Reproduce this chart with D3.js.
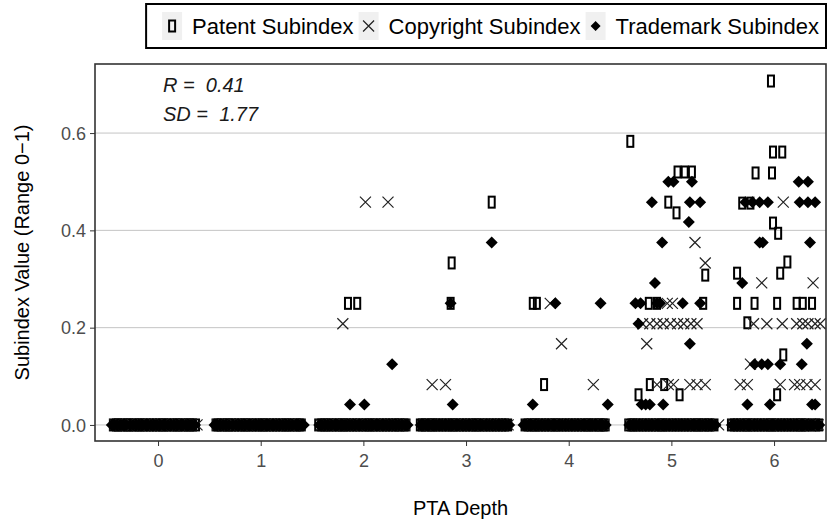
<!DOCTYPE html>
<meta charset="utf-8">
<style>
body{margin:0;background:#fff;}
svg text{font-family:"Liberation Sans",Arial,sans-serif;}
.grid line{stroke:#c4c4c4;stroke-width:1;}
.axis text{fill:#4d4d4d;font-size:18px;}
.axis line{stroke:#333;}
.axis path{display:none;}
.patent{fill:none;stroke:#000;stroke-width:2px;}
.copyright{fill:none;stroke:#222;stroke-width:1.2px;}
.trademark{fill:#000;}
</style>
<body>
<script src="https://d3js.org/d3.v7.min.js"></script>
<script>
// category ticks + y ticks
var depths = [0,1,2,3,4,5,6];
var yTicks = [0,0.2,0.4,0.6];
var seriesNames = ["Patent Subindex","Copyright Subindex","Trademark Subindex"];

// non-zero points, [jittered depth, value]
var patentPoints = [[1.85,0.25],[1.94,0.25],[2.86,0.333],[2.85,0.25],[3.25,0.458],
  [3.65,0.25],[3.69,0.25],[3.76,0.083],
  [4.60,0.583],[5.06,0.52],[5.13,0.52],[5.20,0.52],[4.97,0.458],[5.05,0.436],
  [5.33,0.308],[5.31,0.25],[4.78,0.25],[4.86,0.25],[4.79,0.083],[4.93,0.083],
  [4.68,0.062],[5.08,0.062],
  [5.97,0.707],[5.99,0.561],[6.08,0.561],[5.82,0.518],[5.98,0.518],[5.69,0.456],
  [5.77,0.456],[5.99,0.415],[6.04,0.394],[6.13,0.335],[6.06,0.312],[5.64,0.312],
  [5.64,0.25],[5.81,0.25],[6.03,0.25],[6.22,0.25],[6.28,0.25],[6.37,0.25],
  [5.74,0.21],[6.09,0.144],[6.03,0.062]];
var copyrightPoints = [[1.80,0.208],[2.02,0.458],[2.24,0.458],[2.67,0.083],[2.80,0.083],
  [3.82,0.25],[3.93,0.167],[4.24,0.083],
  [5.23,0.375],[5.33,0.333],[4.96,0.25],[5.01,0.25],
  [4.72,0.208],[4.79,0.208],[4.86,0.208],[4.92,0.208],[4.99,0.208],[5.06,0.208],
  [5.12,0.208],[5.19,0.208],[5.25,0.208],[4.76,0.167],
  [4.86,0.083],[4.97,0.083],[5.02,0.083],[5.18,0.083],[5.25,0.083],[5.33,0.083],
  [5.88,0.292],[6.38,0.292],[6.09,0.458],
  [5.80,0.208],[5.93,0.208],[6.08,0.208],[6.22,0.208],[6.28,0.208],[6.33,0.208],
  [6.40,0.208],[6.45,0.208],[5.77,0.125],
  [5.67,0.083],[5.74,0.083],[6.06,0.083],[6.20,0.083],[6.25,0.083],[6.32,0.083],[6.40,0.083]];
var trademarkPoints = [[1.87,0.042],[2.01,0.042],[2.28,0.125],
  [2.87,0.042],[2.85,0.25],[3.25,0.375],
  [3.65,0.042],[3.87,0.25],[4.31,0.25],[4.38,0.042],
  [4.81,0.458],[5.18,0.458],[5.28,0.458],[4.97,0.5],[5.02,0.5],[5.20,0.5],
  [5.17,0.417],[4.91,0.375],[4.84,0.292],
  [4.65,0.25],[4.70,0.25],[4.86,0.25],[4.89,0.25],[5.11,0.25],[5.28,0.25],
  [4.68,0.208],[5.18,0.167],
  [4.71,0.042],[4.75,0.042],[4.79,0.042],[4.92,0.042],
  [6.24,0.5],[6.33,0.5],
  [5.72,0.458],[5.79,0.458],[5.86,0.458],[5.94,0.458],[6.25,0.458],[6.33,0.458],[6.40,0.458],
  [5.86,0.375],[5.89,0.375],[6.35,0.375],[5.69,0.292],[6.32,0.167],
  [5.81,0.125],[5.88,0.125],[5.94,0.125],[6.06,0.125],[6.27,0.125],
  [5.74,0.042],[5.96,0.042],[6.37,0.042],[6.40,0.042]];

// x positions of the zero values (dense band)
var patentZero = [-0.44,-0.39,-0.33,-0.28,-0.22,-0.17,-0.11,-0.05,0.01,0.06,0.12,0.18,0.23,0.29,0.34,
  0.56,0.61,0.67,0.72,0.78,0.84,0.89,0.95,1.01,1.06,1.12,1.18,1.24,1.29,1.35,1.40,
  1.56,1.62,1.67,1.73,1.79,1.84,1.90,1.96,2.02,2.07,2.13,2.19,2.25,2.31,2.36,2.42,
  2.57,2.63,2.68,2.74,2.80,2.86,2.91,2.97,3.03,3.09,3.14,3.20,3.26,3.32,3.38,
  3.57,3.63,3.68,3.74,3.80,3.86,3.91,3.97,4.03,4.09,4.15,4.20,4.26,4.31,4.36,
  4.58,4.63,4.69,4.75,4.81,4.87,4.92,4.98,5.04,5.10,5.16,5.22,5.27,5.33,5.38,
  5.58,5.64,5.70,5.75,5.81,5.87,5.93,5.98,6.04,6.10,6.16,6.22,6.27,6.33,6.41,
  -0.41,-0.36,-0.30,-0.25,-0.19,-0.14,-0.08,-0.02,0.04,0.09,0.15,0.20,0.26,0.31,0.37,
  0.58,0.64,0.69,0.75,0.81,0.86,0.92,0.98,1.03,1.09,1.15,1.21,1.26,1.32,1.38,
  1.59,1.64,1.70,1.76,1.81,1.87,1.93,1.99,2.05,2.10,2.16,2.22,2.28,2.34,2.40,
  2.55,2.60,2.66,2.71,2.77,2.83,2.88,2.94,3.00,3.06,3.11,3.17,3.23,3.29,3.35,3.41,
  3.60,3.66,3.71,3.77,3.83,3.88,3.94,4.00,4.06,4.12,4.18,4.23,4.29,4.34,
  4.61,4.66,4.72,4.78,4.84,4.90,4.95,5.01,5.07,5.13,5.19,5.25,5.30,5.36,5.42,
  5.61,5.67,5.73,5.78,5.84,5.90,5.96,6.01,6.07,6.13,6.19,6.25,6.30,6.37,6.44];
var copyrightZero = [-0.42,-0.36,-0.30,-0.25,-0.19,-0.13,-0.08,-0.02,0.04,0.09,0.15,0.21,0.26,0.32,0.38,
  0.58,0.64,0.70,0.75,0.81,0.87,0.92,0.98,1.04,1.09,1.15,1.21,1.27,1.33,1.38,
  1.59,1.65,1.71,1.76,1.82,1.88,1.94,1.99,2.05,2.11,2.16,2.22,2.28,2.34,2.40,
  2.60,2.65,2.71,2.77,2.83,2.89,2.94,3.00,3.06,3.12,3.17,3.23,3.29,3.35,3.41,
  3.60,3.65,3.71,3.77,3.83,3.88,3.94,4.00,4.06,4.12,4.17,4.23,4.29,4.34,
  4.60,4.66,4.72,4.78,4.84,4.89,4.95,5.01,5.07,5.13,5.19,5.24,5.30,5.36,5.46,
  5.61,5.67,5.73,5.78,5.84,5.90,5.96,6.01,6.07,6.13,6.19,6.25,6.30,6.36,6.43];
var trademarkZero = [-0.45,-0.40,-0.34,-0.27,-0.21,-0.15,-0.10,-0.04,0.02,0.07,0.13,0.19,0.24,0.30,0.36,
  0.55,0.60,0.66,0.73,0.79,0.85,0.90,0.96,1.02,1.08,1.13,1.19,1.25,1.31,1.37,1.42,
  1.57,1.63,1.69,1.75,1.80,1.86,1.92,1.97,2.03,2.09,2.15,2.20,2.26,2.32,2.38,2.43,
  2.58,2.64,2.70,2.76,2.81,2.87,2.93,2.99,3.04,3.10,3.16,3.22,3.28,3.33,3.39,
  3.58,3.64,3.70,3.76,3.81,3.87,3.93,3.99,4.04,4.10,4.16,4.22,4.27,4.33,
  4.59,4.65,4.71,4.76,4.82,4.88,4.94,4.99,5.05,5.11,5.17,5.23,5.28,5.34,5.40,
  5.59,5.65,5.71,5.77,5.83,5.88,5.94,6.00,6.06,6.11,6.17,6.23,6.29,6.35,6.42,
  -0.43,-0.37,-0.31,-0.24,-0.18,-0.12,-0.07,-0.01,0.05,0.10,0.16,0.22,0.27,0.33,
  0.57,0.63,0.69,0.76,0.82,0.88,0.93,0.99,1.05,1.11,1.16,1.22,1.28,1.34,1.40,
  1.60,1.66,1.72,1.78,1.83,1.89,1.95,2.00,2.06,2.12,2.18,2.23,2.29,2.35,2.41,
  2.56,2.61,2.67,2.73,2.79,2.84,2.90,2.96,3.02,3.07,3.13,3.19,3.25,3.31,3.36,3.42,
  3.56,3.61,3.67,3.73,3.79,3.84,3.90,3.96,4.02,4.07,4.13,4.19,4.25,4.30,4.36,
  4.62,4.68,4.74,4.79,4.85,4.91,4.97,5.02,5.08,5.14,5.20,5.26,5.31,5.37,5.43,
  5.62,5.68,5.74,5.80,5.86,5.91,5.97,6.03,6.09,6.14,6.20,6.26,6.32,6.38,6.44];

var statLines = ["R =  0.41","SD =  1.77"];

var W = 829, H = 522;
var panel = {left:95, right:826, top:64, bottom:441};

var svg = d3.select("body").append("svg").attr("width",W).attr("height",H);

var x = d3.scaleLinear().domain([-0.614,6.506]).range([panel.left,panel.right]);
var y = d3.scaleLinear().domain([-0.033,0.742]).range([panel.bottom,panel.top]);

// grid
svg.append("g").attr("class","grid").selectAll("line").data(yTicks).enter()
  .append("line")
  .attr("x1",panel.left).attr("x2",panel.right)
  .attr("y1",function(d){return y(d);}).attr("y2",function(d){return y(d);});

// axes
var yAxis = svg.append("g").attr("class","axis")
  .attr("transform","translate("+panel.left+",0)")
  .call(d3.axisLeft(y).tickValues(yTicks).tickFormat(d3.format(".1f")).tickSize(5).tickPadding(4));
yAxis.selectAll("text").attr("dy","0.35em");

svg.append("g").attr("class","axis")
  .attr("transform","translate(0,"+panel.bottom+")")
  .call(d3.axisBottom(x).tickValues(depths).tickFormat(d3.format("d")).tickSize(5).tickPadding(8));

// points
function diamondPath(r){ return "M0,"+(-r)+"L"+r+",0L0,"+r+"L"+(-r)+",0Z"; }
function crossPath(r){ return "M"+(-r)+","+(-r)+"L"+r+","+r+"M"+(-r)+","+r+"L"+r+","+(-r); }

function drawPatent(g, pts){
  g.selectAll("rect").data(pts).enter().append("rect").attr("class","patent")
    .attr("x",function(d){return x(d[0])-3;})
    .attr("y",function(d){return y(d[1])-5.5;})
    .attr("width",6).attr("height",11);
}
function drawCopyright(g, pts){
  g.selectAll("path").data(pts).enter().append("path").attr("class","copyright")
    .attr("d",crossPath(5.5))
    .attr("transform",function(d){return "translate("+x(d[0])+","+y(d[1])+")";});
}
function drawTrademark(g, pts){
  g.selectAll("path").data(pts).enter().append("path").attr("class","trademark")
    .attr("d",diamondPath(6))
    .attr("transform",function(d){return "translate("+x(d[0])+","+y(d[1])+")";});
}

var toZero = function(v){ return [v,0]; };
drawPatent(svg.append("g"), patentZero.map(toZero).concat(patentPoints));
drawCopyright(svg.append("g"), copyrightZero.map(toZero).concat(copyrightPoints));
drawTrademark(svg.append("g"), trademarkZero.map(toZero).concat(trademarkPoints));

// panel border
svg.append("rect")
  .attr("x",panel.left).attr("y",panel.top)
  .attr("width",panel.right-panel.left).attr("height",panel.bottom-panel.top)
  .attr("fill","none").attr("stroke","#333").attr("stroke-width",1.6);

// stats text
svg.append("g").selectAll("text").data(statLines).enter().append("text")
  .attr("x",163).attr("y",function(d,i){return 92+i*29;})
  .attr("font-size","20px").attr("font-style","italic").attr("fill","#1a1a1a")
  .style("white-space","pre").text(function(d){return d;});

// axis titles
svg.append("text").attr("x",(panel.left+panel.right)/2).attr("y",515)
  .attr("text-anchor","middle").attr("font-size","20px").text("PTA Depth");
svg.append("text").attr("transform","translate(29,"+((panel.top+panel.bottom)/2)+") rotate(-90)")
  .attr("text-anchor","middle").attr("font-size","20px").text("Subindex Value (Range 0\u22121)");

// legend
var leg = svg.append("g");
var legBox = leg.append("rect").attr("fill","#fff").attr("stroke","#000").attr("stroke-width",2);
var cx = 0;
seriesNames.forEach(function(name,i){
  var it = leg.append("g");
  it.append("rect").attr("x",cx).attr("y",-14).attr("width",20).attr("height",28).attr("fill","#f0f0f0");
  var k = it.append("g").attr("transform","translate("+(cx+10)+",0)");
  if(i==0) k.append("rect").attr("class","patent").attr("x",-3).attr("y",-5.5).attr("width",6).attr("height",11);
  if(i==1) k.append("path").attr("class","copyright").attr("d",crossPath(5.5));
  if(i==2) k.append("path").attr("class","trademark").attr("d",diamondPath(5));
  var t = it.append("text").attr("x",cx+30).attr("y",8).attr("font-size","22px").text(name);
  cx += 30 + t.node().getComputedTextLength() + 5;
});
var legW = cx + 18;
legBox.attr("x",-16).attr("y",-22).attr("width",legW).attr("height",44);
leg.attr("transform","translate("+(826-legW+16)+",26)");
</script>
